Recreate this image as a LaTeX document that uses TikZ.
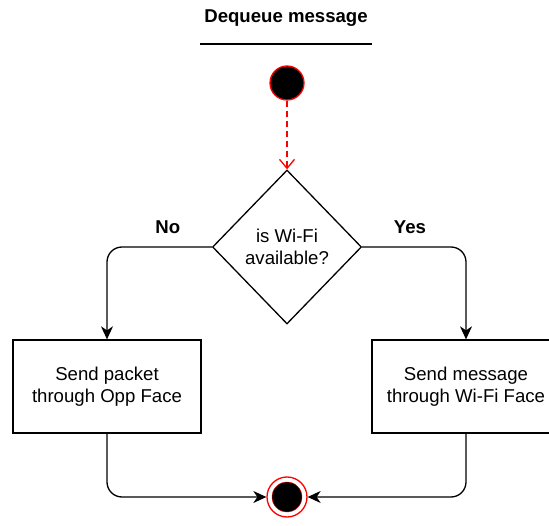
\documentclass[tikz,border=0pt]{standalone}
\usepackage{fontspec}
\setmainfont{Liberation Sans}
\usetikzlibrary{arrows.meta,shapes.geometric,positioning}

\begin{document}
\begin{tikzpicture}[x=1pt,y=-1pt,>={Stealth[length=13pt,width=12pt,inset=4pt]},
                    line width=1.3pt,font=\fontsize{18.6}{21.5}\selectfont]
  \tikzstyle{box}=[draw,rectangle,minimum width=188pt,minimum height=93pt,align=center,inner sep=0pt]
  \tikzstyle{decision}=[draw,diamond,aspect=0.97,minimum width=149pt,minimum height=154pt,align=center,inner sep=0pt]
  \tikzstyle{flow}=[->,rounded corners=15pt]
  \tikzstyle{lbl}=[font=\fontsize{18.6}{21.5}\selectfont\bfseries]

  \useasboundingbox (0,0) rectangle (549,526);

  \node[lbl] (title) at (286,18) {Dequeue message};
  \draw (200,44) -- (372,44);

  \node[circle,fill=black,draw=red,minimum size=34pt,inner sep=0pt] (start) at (287,83) {};
  \node[decision] (cond) at (287,247) {is Wi-Fi\\available?};
  \node[box] (opp) at (107,386.5) {Send packet\\through Opp Face};
  \node[box] (wifi) at (466,386.5) {Send message\\through Wi-Fi Face};
  \node[circle,draw=red,minimum size=40pt,inner sep=0pt] (stop) at (287,497) {};
  \node[circle,fill=black,draw=red,line width=0.4pt,minimum size=30pt,inner sep=0pt] (stopin) at (stop) {};

  % transitions
  \draw[red,dash pattern=on 6pt off 4pt,-{Straight Barb[length=9pt,width=15pt]}] (start) -- (cond.north);
  \draw[flow] (cond.west) -| node[lbl,pos=0.21,above=9pt] {No} (opp.north);
  \draw[flow] (cond.east) -| node[lbl,pos=0.23,above=9pt] {Yes} (wifi.north);
  \draw[flow] (opp.south) |- (stop.west);
  \draw[flow] (wifi.south) |- (stop.east);
\end{tikzpicture}
\end{document}
